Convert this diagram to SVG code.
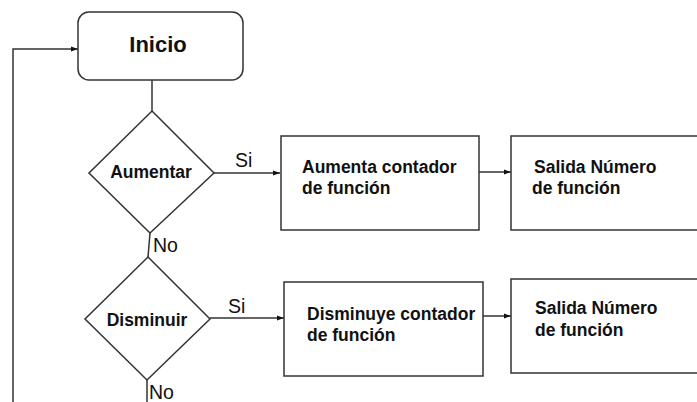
<svg xmlns="http://www.w3.org/2000/svg" width="697" height="402" viewBox="0 0 697 402">
<defs>
<marker id="ah" markerWidth="8" markerHeight="6" refX="7" refY="3" orient="auto" markerUnits="userSpaceOnUse">
<path d="M0,0.5 L7,3 L0,5.5 Z" fill="#111"/>
</marker>
<style>
.shape{fill:#fff;stroke:#333;stroke-width:1.5}
.line{fill:none;stroke:#333;stroke-width:1.5}
.t{font-family:"Liberation Sans",Arial,sans-serif;font-weight:bold;font-size:17.5px;fill:#111}
.big{font-size:22px}
.lbl{font-family:"Liberation Sans",Arial,sans-serif;font-size:19.5px;fill:#111}
</style>
</defs>
<rect width="697" height="402" fill="#fff"/>
<g id="connectors">
<polyline class="line" points="13,402 13,49 78,49" marker-end="url(#ah)"/>
<line class="line" x1="152" y1="80" x2="152" y2="111"/>
<line class="line" x1="214" y1="173" x2="280" y2="173" marker-end="url(#ah)"/>
<line class="line" x1="479" y1="172" x2="511" y2="172" marker-end="url(#ah)"/>
<line class="line" x1="150" y1="233" x2="148" y2="257"/>
<line class="line" x1="210" y1="318" x2="284" y2="318" marker-end="url(#ah)"/>
<line class="line" x1="483" y1="316" x2="511" y2="316" marker-end="url(#ah)"/>
<line class="line" x1="147" y1="380" x2="147" y2="402"/>
<text class="lbl" x="235" y="167">Si</text>
<text class="lbl" x="153" y="252">No</text>
<text class="lbl" x="228" y="313">Si</text>
<text class="lbl" x="149" y="399">No</text>
</g>
<g id="inicio">
<rect class="shape" x="78" y="12" width="165" height="68" rx="11"/>
<text class="t big" x="158" y="52" text-anchor="middle">Inicio</text>
</g>
<g id="aumentar">
<polygon class="shape" points="152,111 214,173 150,233 89,173"/>
<text class="t" x="151" y="178" text-anchor="middle">Aumentar</text>
</g>
<g id="aumenta-contador">
<rect class="shape" x="281" y="136" width="198" height="94"/>
<text class="t" x="302" y="173">Aumenta contador</text>
<text class="t" x="302" y="194">de función</text>
</g>
<g id="salida1">
<rect class="shape" x="511" y="136" width="200" height="94"/>
<text class="t" x="534" y="173">Salida Número</text>
<text class="t" x="532" y="194">de función</text>
</g>
<g id="disminuir">
<polygon class="shape" points="148,257 210,319 147,380 85,319"/>
<text class="t" x="147" y="326" text-anchor="middle">Disminuir</text>
</g>
<g id="disminuye-contador">
<rect class="shape" x="284" y="282" width="199" height="94"/>
<text class="t" x="307" y="320">Disminuye contador</text>
<text class="t" x="307" y="341">de función</text>
</g>
<g id="salida2">
<rect class="shape" x="511" y="279" width="200" height="94"/>
<text class="t" x="535" y="314">Salida Número</text>
<text class="t" x="535" y="336">de función</text>
</g>
</svg>
